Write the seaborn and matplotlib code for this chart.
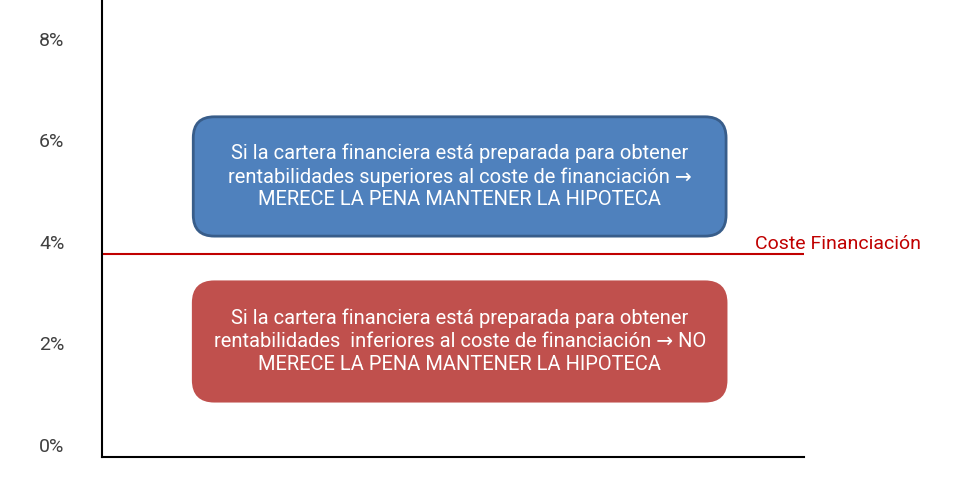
import matplotlib
matplotlib.use("Agg")
import matplotlib.pyplot as plt
from matplotlib.patches import FancyBboxPatch
from matplotlib.transforms import ScaledTranslation
import seaborn as sns

# data
y_ticks = [0.0, 0.02, 0.04, 0.06, 0.08]
y_tick_labels = ["0%", "2%", "4%", "6%", "8%"]
coste_financiacion = 0.04
cost_label = "Coste Financiación"

box_x = [0.13, 0.889]
box_blue_y = [0.0435, 0.067]
box_red_y = [0.011, 0.0345]
text_blue = ("Si la cartera financiera está preparada para obtener\n"
             "rentabilidades superiores al coste de financiación →\n"
             "MERECE LA PENA MANTENER LA HIPOTECA")
text_red = ("Si la cartera financiera está preparada para obtener\n"
            "rentabilidades  inferiores al coste de financiación → NO\n"
            "MERECE LA PENA MANTENER LA HIPOTECA")

sns.set_style("white")
plt.rcParams['font.family'] = ['Roboto', 'DejaVu Sans']

fig = plt.figure(figsize=(9.8, 4.97), dpi=100)
ax = fig.add_axes([102 / 980, 40 / 497, 702 / 980, 457 / 497])

sns.lineplot(x=[0, 1], y=[coste_financiacion, coste_financiacion], ax=ax,
             color="#C00000", linewidth=1.5)
ax.text(0.93, coste_financiacion + 0.001, cost_label, color="#C00000",
        fontsize=14, ha="left", va="baseline", clip_on=False)

# rounded boxes
asp = (0.09 / 457) / (1 / 702)
for (y0, y1), fc, ec, txt in [(box_blue_y, "#4F81BD", "#385D8A", text_blue),
                              (box_red_y, "#C0504D", "#C0504D", text_red)]:
    box = FancyBboxPatch((box_x[0], y0), box_x[1] - box_x[0], y1 - y0,
                         boxstyle="round,pad=0,rounding_size=0.03",
                         mutation_aspect=asp, facecolor=fc, edgecolor=ec,
                         linewidth=2)
    ax.add_patch(box)
    ax.text((box_x[0] + box_x[1]) / 2, (y0 + y1) / 2, txt, color="white",
            fontsize=14.5, ha="center", va="center", linespacing=1.25)

ax.set_xlim(0, 1)
ax.set_ylim(0, 0.09)
ax.set_xticks([])
ax.set_yticks(y_ticks)
ax.set_yticklabels(y_tick_labels, fontsize=14, color="#404040")
ax.tick_params(axis="y", length=0, pad=27)
for lab in ax.get_yticklabels():
    lab.set_transform(lab.get_transform() + ScaledTranslation(0, 12 / 100, fig.dpi_scale_trans))

for s in ["top", "right"]:
    ax.spines[s].set_visible(False)
for s in ["left", "bottom"]:
    ax.spines[s].set_color("black")
    ax.spines[s].set_linewidth(1.5)

fig.savefig("out.png", dpi=100)
